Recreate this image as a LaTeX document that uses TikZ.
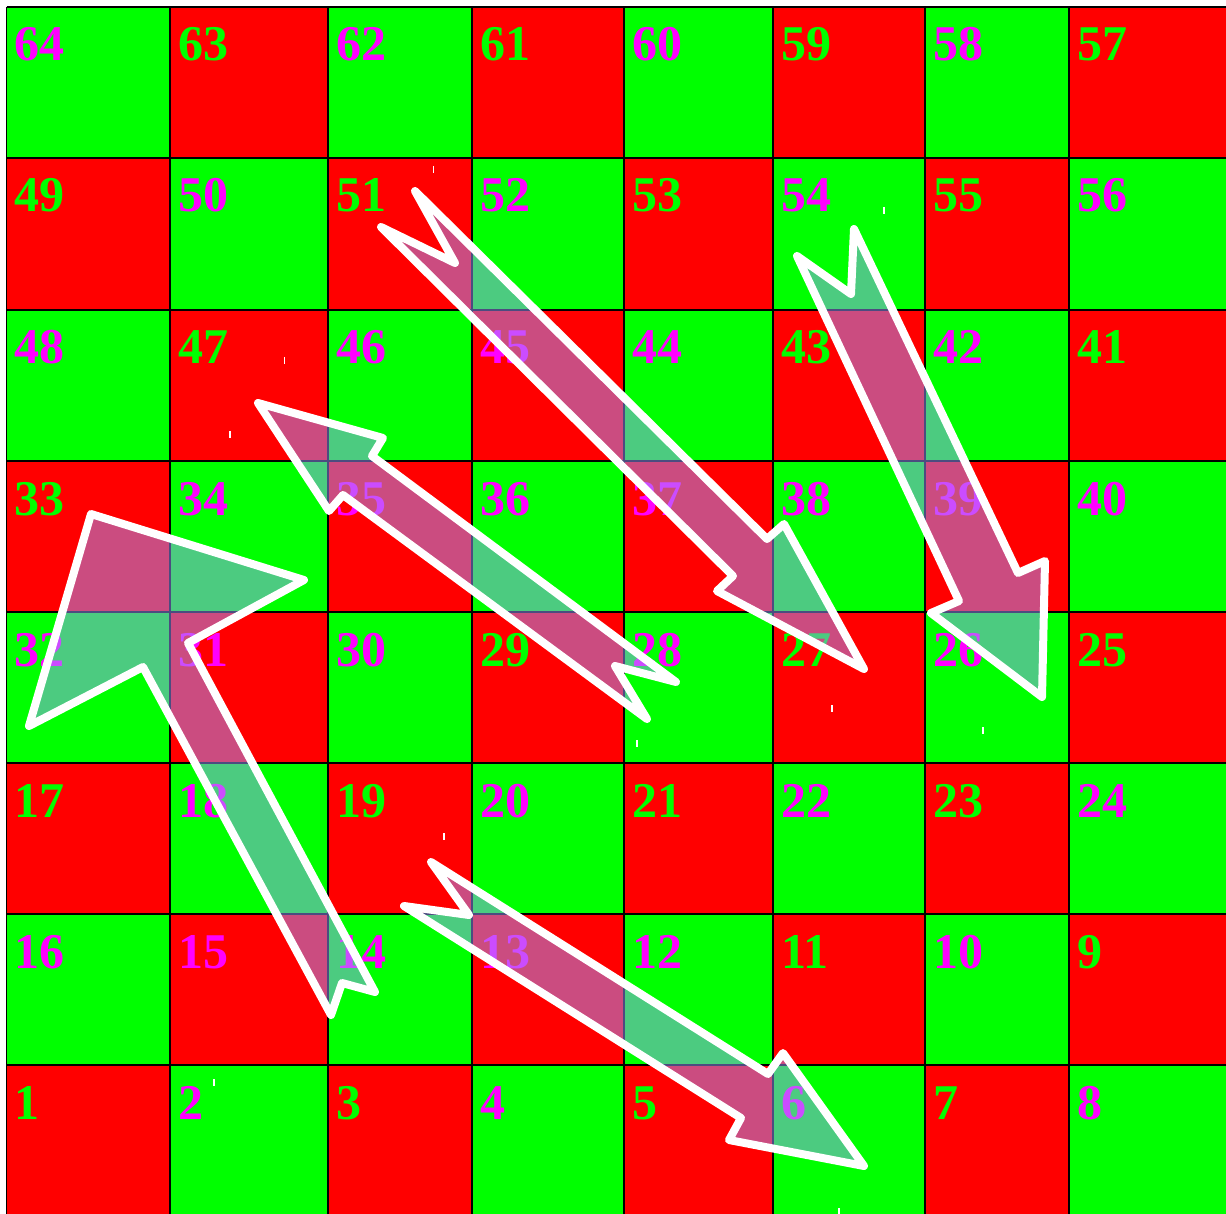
\documentclass[tikz,border=0pt]{standalone}
\usepackage{fontspec}
\setmainfont{Liberation Serif}
\definecolor{cellred}{RGB}{255,0,0}
\definecolor{cellgreen}{RGB}{0,255,0}
\definecolor{numgreen}{RGB}{0,255,0}
\definecolor{nummag}{RGB}{255,0,255}
\definecolor{arrowfill}{RGB}{152,152,255}
\begin{document}
\begin{tikzpicture}[x=1pt,y=-1pt,
  gridline/.style={draw=black,line width=1.3pt},
  numlabel/.style={anchor=base west,inner sep=0pt,font=\bfseries\fontsize{50}{50}\selectfont},
  bigarrow/.style={fill=arrowfill,fill opacity=0.5,draw=white,line width=8pt,line join=round},
  smallmark/.style={draw=white,line width=1.5pt}]
\useasboundingbox (0,0) rectangle (1226,1214);
% cells
\foreach \c/\xa/\xb in {0/6.5/170,1/170/328,2/328/472,3/472/624,4/624/773,5/773/925,6/925/1069,7/1069/1227}{
  \foreach \r/\ya/\yb in {7/7/158,6/158/310,5/310/461,4/461/612,3/612/763,2/763/914,1/914/1065,0/1065/1215}{
    \pgfmathtruncatemacro\cp{mod(\c+\r,2)}
    \ifnum\cp=0 \def\cf{cellred}\else\def\cf{cellgreen}\fi
    \fill[\cf] (\xa,\ya) rectangle (\xb,\yb);
  }}
% grid lines
\foreach \xx in {6.5,170,328,472,624,773,925,1069}{
  \draw[gridline] (\xx,7) -- (\xx,1214);}
\foreach \yy in {7,158,310,461,612,763,914,1065}{
  \draw[gridline] (6.5,\yy) -- (1226,\yy);}
% numbers
\foreach \c/\xa in {0/6.5,1/170,2/328,3/472,4/624,5/773,6/925,7/1069}{
  \foreach \r/\ya in {7/7,6/158,5/310,4/461,3/612,2/763,1/914,0/1065}{
    \pgfmathtruncatemacro\n{mod(\r,2)==1 ? 8*\r+8-\c : 8*\r+\c+1}
    \pgfmathtruncatemacro\mag{(mod(\n,2)==0)||(\n==13)||(\n==15)||(\n==31)||(\n==35)||(\n==37)||(\n==39)||(\n==45)}
    \ifnum\mag=1 \def\tc{nummag}\else\def\tc{numgreen}\fi
    \node[numlabel,text=\tc] (n\n) at (\xa+8,\ya+54) {\n};
  }}
% arrows
\draw[bigarrow] (415,191) -- (767,539) -- (784,524) -- (864,669) -- (717,591) -- (733,576) -- (381,227) -- (455,263) -- cycle;
\draw[bigarrow] (854,229) -- (1018,573) -- (1045,561) -- (1042,697) -- (931,613) -- (959,601) -- (797,256) -- (851,294) -- cycle;
\draw[bigarrow] (258,403) -- (383,438) -- (372,456) -- (676,682) -- (615,666) -- (647,719) -- (343,495) -- (329,511) -- cycle;
\draw[bigarrow] (91,514) -- (304,580) -- (188,643) -- (375,992) -- (342,983) -- (331,1015) -- (143,667) -- (29,726) -- cycle;
\draw[bigarrow] (431,862) -- (768,1074) -- (783,1053) -- (864,1166) -- (729,1140) -- (741,1118) -- (404,906) -- (469,915) -- cycle;
% small white marks
\foreach \mx/\my in {433.5/166,884/207,284.5/357,230/431,637/740,832/705,983/727,444/833,214/1079,839/1208}{
  \draw[smallmark] (\mx,\my) -- (\mx,\my+7);}
\end{tikzpicture}
\end{document}
